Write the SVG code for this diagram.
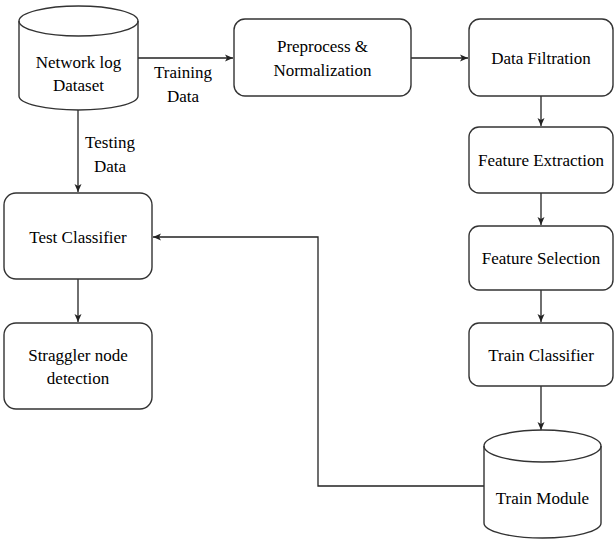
<svg xmlns="http://www.w3.org/2000/svg" width="615" height="541" viewBox="0 0 615 541">
<defs>
<marker id="a" markerWidth="10" markerHeight="10" refX="9" refY="5" orient="auto" markerUnits="userSpaceOnUse">
<path d="M1,1.5 L9,5 L1,8.5 L3,5 Z" fill="#222"/>
</marker>
</defs>
<rect width="615" height="541" fill="#fff"/>
<g id="connectors" fill="none" stroke="#222" stroke-width="1.3">
<line x1="138" y1="58" x2="233" y2="58" marker-end="url(#a)"/>
<line x1="411" y1="58" x2="468" y2="58" marker-end="url(#a)"/>
<line x1="541" y1="96" x2="541" y2="126" marker-end="url(#a)"/>
<line x1="541" y1="193" x2="541" y2="225" marker-end="url(#a)"/>
<line x1="541" y1="290" x2="541" y2="322" marker-end="url(#a)"/>
<line x1="541" y1="386" x2="541" y2="430" marker-end="url(#a)"/>
<line x1="78" y1="110" x2="78" y2="192" marker-end="url(#a)"/>
<line x1="78" y1="279" x2="78" y2="322" marker-end="url(#a)"/>
<polyline points="484,486 318,486 318,237 153,237" marker-end="url(#a)"/>
</g>
<g id="dataset" fill="#fff" stroke="#333" stroke-width="1.4">
<path d="M19,21 L19,96 A59.5,14 0 0 0 138,96 L138,21 A59.5,15 0 0 0 19,21 Z"/>
<path d="M19,21 A59.5,15 0 0 0 138,21" fill="none"/>
</g>
<g id="preprocess" fill="#fff" stroke="#333" stroke-width="1.4">
<rect x="234" y="19" width="177" height="77" rx="11"/>
</g>
<g id="filtration" fill="#fff" stroke="#333" stroke-width="1.4">
<rect x="469" y="19" width="144" height="77" rx="11"/>
</g>
<g id="extraction" fill="#fff" stroke="#333" stroke-width="1.4">
<rect x="469" y="127" width="144" height="66" rx="10"/>
</g>
<g id="selection" fill="#fff" stroke="#333" stroke-width="1.4">
<rect x="469" y="226" width="144" height="64" rx="10"/>
</g>
<g id="trainclassifier" fill="#fff" stroke="#333" stroke-width="1.4">
<rect x="469" y="323" width="144" height="63" rx="10"/>
</g>
<g id="trainmodule" fill="#fff" stroke="#333" stroke-width="1.4">
<path d="M484,446 L484,523 A58.5,15 0 0 0 601,523 L601,446 A58.5,16 0 0 0 484,446 Z"/>
<path d="M484,446 A58.5,16 0 0 0 601,446" fill="none"/>
</g>
<g id="testclassifier" fill="#fff" stroke="#333" stroke-width="1.4">
<rect x="4" y="193" width="148" height="86" rx="12"/>
</g>
<g id="straggler" fill="#fff" stroke="#333" stroke-width="1.4">
<rect x="4" y="323" width="148" height="86" rx="12"/>
</g>
<text x="183" y="78" font-family="Times New Roman, Liberation Serif, serif" font-size="17" text-anchor="middle">Training</text>
<text x="183" y="102" font-family="Times New Roman, Liberation Serif, serif" font-size="17" text-anchor="middle">Data</text>
<text x="110" y="148" font-family="Times New Roman, Liberation Serif, serif" font-size="17" text-anchor="middle">Testing</text>
<text x="110" y="172" font-family="Times New Roman, Liberation Serif, serif" font-size="17" text-anchor="middle">Data</text>
<text x="78.5" y="68" font-family="Times New Roman, Liberation Serif, serif" font-size="17" text-anchor="middle">Network log</text>
<text x="78.5" y="91" font-family="Times New Roman, Liberation Serif, serif" font-size="17" text-anchor="middle">Dataset</text>
<text x="322.5" y="52" font-family="Times New Roman, Liberation Serif, serif" font-size="17" text-anchor="middle">Preprocess &amp;</text>
<text x="322.5" y="76" font-family="Times New Roman, Liberation Serif, serif" font-size="17" text-anchor="middle">Normalization</text>
<text x="541" y="64" font-family="Times New Roman, Liberation Serif, serif" font-size="17" text-anchor="middle">Data Filtration</text>
<text x="541" y="166" font-family="Times New Roman, Liberation Serif, serif" font-size="17" text-anchor="middle">Feature Extraction</text>
<text x="541" y="264" font-family="Times New Roman, Liberation Serif, serif" font-size="17" text-anchor="middle">Feature Selection</text>
<text x="541" y="361" font-family="Times New Roman, Liberation Serif, serif" font-size="17" text-anchor="middle">Train Classifier</text>
<text x="542.5" y="504" font-family="Times New Roman, Liberation Serif, serif" font-size="17" text-anchor="middle">Train Module</text>
<text x="78" y="243" font-family="Times New Roman, Liberation Serif, serif" font-size="17" text-anchor="middle">Test Classifier</text>
<text x="78" y="361" font-family="Times New Roman, Liberation Serif, serif" font-size="17" text-anchor="middle">Straggler node</text>
<text x="78" y="384" font-family="Times New Roman, Liberation Serif, serif" font-size="17" text-anchor="middle">detection</text>
</svg>
